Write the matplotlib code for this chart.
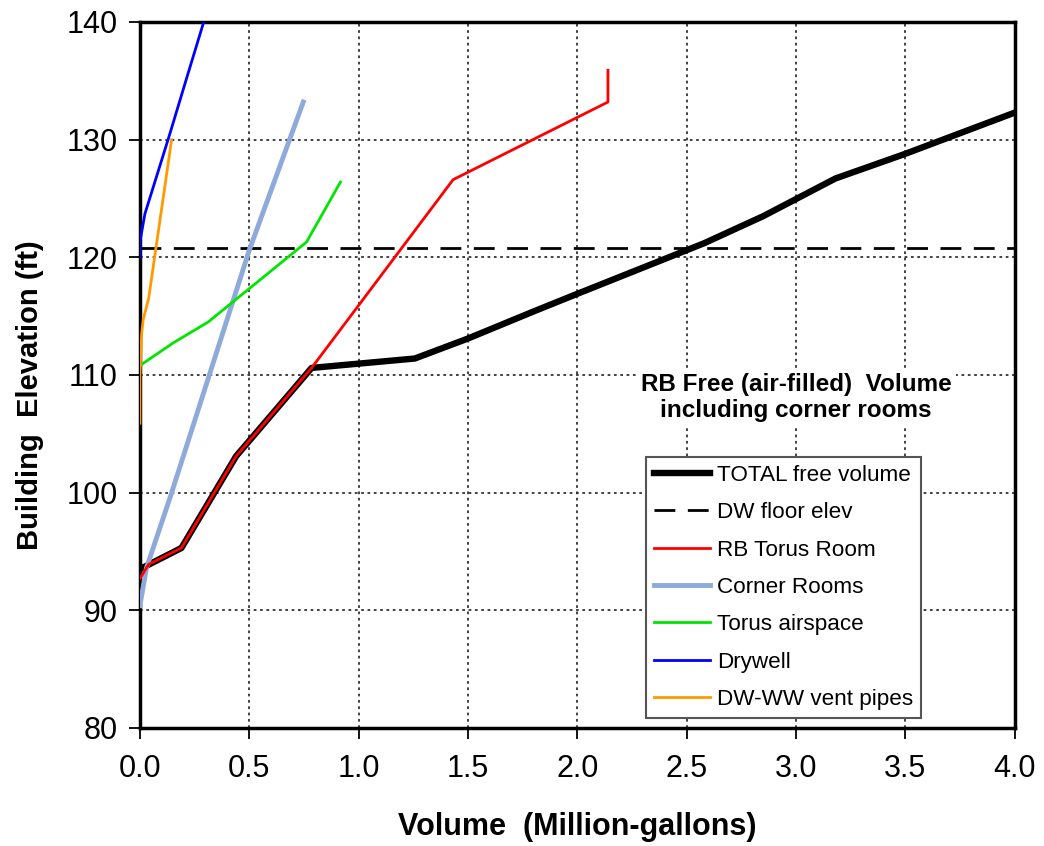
import matplotlib.pyplot as plt
from matplotlib.ticker import MultipleLocator

plt.rcParams['font.family'] = ['Liberation Sans', 'DejaVu Sans']

# volumes in million gallons, elevations in ft
total_x = [0.0, 0.19, 0.44, 0.785, 1.257, 1.5, 1.8, 2.0, 2.58, 2.85, 3.18, 3.5, 4.0]
total_y = [93.5, 95.3, 103.1, 110.6, 111.4, 113.1, 115.4, 116.9, 121.2, 123.5, 126.7, 128.8, 132.3]

dw_floor = 120.8

torus_room_x = [0.0, 0.04, 0.19, 0.44, 0.785, 1.432, 2.14, 2.14]
torus_room_y = [92.7, 93.9, 95.3, 103.1, 110.6, 126.6, 133.2, 135.9]

corner_x = [0.0, 0.03, 0.14, 0.5, 0.747]
corner_y = [90.4, 93.6, 99.7, 120.6, 133.2]

torus_air_x = [0.0, 0.15, 0.312, 0.762, 0.917]
torus_air_y = [110.8, 112.7, 114.5, 121.3, 126.4]

drywell_x = [0.0, 0.0, 0.023, 0.07, 0.137, 0.21, 0.3]
drywell_y = [120.0, 121.3, 123.7, 126.5, 130.5, 135.0, 140.5]

vent_x = [0.0, 0.0, 0.008, 0.015, 0.04, 0.145]
vent_y = [105.9, 110.0, 113.5, 114.7, 116.5, 130.0]

fig = plt.figure(figsize=(10.44, 8.46), dpi=100)
ax = fig.add_axes([0.134, 0.1395, 0.838, 0.8345])

ax.plot(total_x, total_y, color='black', lw=4.6, label='TOTAL free volume', zorder=3)
ax.axhline(dw_floor, color='black', lw=2, dashes=(7.5, 4.5), label='DW floor elev', zorder=3)
ax.plot(torus_room_x, torus_room_y, color='#ff0000', lw=2, label='RB Torus Room', zorder=4)
ax.plot(corner_x, corner_y, color='#8eaadb', lw=3.5, label='Corner Rooms', zorder=3)
ax.plot(torus_air_x, torus_air_y, color='#00e600', lw=2, label='Torus airspace', zorder=3)
ax.plot(drywell_x, drywell_y, color='#0000ff', lw=2, label='Drywell', zorder=3)
ax.plot(vent_x, vent_y, color='#ff9900', lw=2, label='DW-WW vent pipes', zorder=3)

ax.set_xlim(0, 4.0)
ax.set_ylim(80, 140)
ax.xaxis.set_major_locator(MultipleLocator(0.5))
ax.yaxis.set_major_locator(MultipleLocator(10))
ax.xaxis.set_major_formatter(plt.FormatStrFormatter('%.1f'))
ax.grid(True, color='#333333', ls=(0, (1.5, 2)), lw=1.3, zorder=1)

for s in ax.spines.values():
    s.set_linewidth(2.5)
ax.tick_params(direction='out', length=8, width=1.3, labelsize=22)
ax.tick_params(axis='x', pad=11)
ax.tick_params(axis='y', pad=8)

ax.set_xlabel('Volume  (Million-gallons)', fontsize=22, fontweight='bold', labelpad=20)
ax.set_ylabel('Building  Elevation (ft)', fontsize=21, fontweight='bold')
ax.yaxis.set_label_coords(-0.11, 0.472)

ax.text(3.0, 108.1, 'RB Free (air-filled)  Volume\nincluding corner rooms',
        ha='center', va='center', fontsize=17.5, fontweight='bold', linespacing=1.2,
        bbox=dict(facecolor='white', edgecolor='none', pad=3), zorder=5)

leg = ax.legend(loc='lower right', bbox_to_anchor=(0.893, 0.014), fontsize=16.2,
                frameon=True, fancybox=False, edgecolor='#555555', framealpha=1,
                handlelength=2.5, handletextpad=0.3, labelspacing=0.73,
                borderpad=0.35, borderaxespad=0)
leg.get_frame().set_linewidth(1.5)
leg.set_zorder(6)

fig.savefig('out.png', dpi=100)
